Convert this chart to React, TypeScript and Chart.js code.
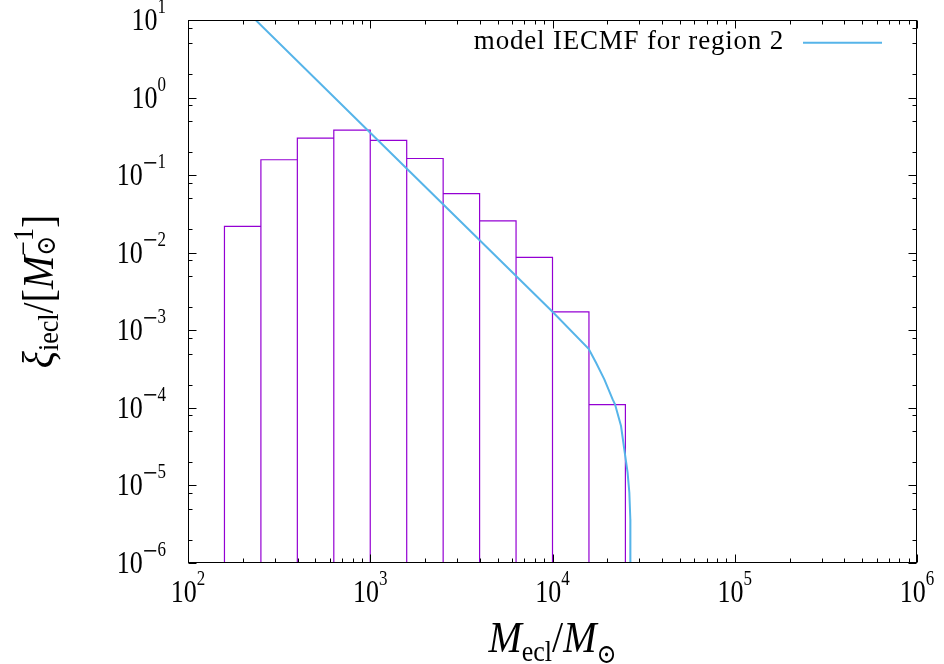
import { useEffect, useRef } from "react";
import { Chart, registerables } from "chart.js";

Chart.register(...registerables);

// Histogram of embedded-cluster masses: bin edges (Msun) and heights (1/Msun)
const binEdges = [158.5, 251.2, 398.1, 631.0, 1000, 1585, 2512, 3981, 6310, 10000, 15850, 25120];
const binHeights = [0.0219, 0.158, 0.3, 0.38, 0.28, 0.164, 0.0577, 0.0257, 0.00873, 0.00173, 0.00011];

// Model IECMF curve samples
const modelMass = [100, 1000, 10000, 15790, 17340, 19250, 21380, 22030, 23770, 24770, 25820, 26400, 26730, 26750];
const modelXi = [72, 0.352, 0.00173, 5.78e-4, 3.82e-4, 2.33e-4, 1.285e-4, 1.11e-4, 5.83e-5, 2.92e-5, 1.47e-5, 8.1e-6, 3.67e-6, 1e-9];

// Axis ticks
const xMajorExponents = [2, 3, 4, 5, 6];
const yMajorExponents = [-6, -5, -4, -3, -2, -1, 0, 1];
const xMinorMultipliers = [2, 3, 4, 5, 6, 7, 8, 9];
const yMinorMultipliers = [2, 5, 8];

const legendLabel = "model IECMF for region 2";

const X_MIN = 1e2;
const X_MAX = 1e6;
const Y_MIN = 1e-6;
const Y_MAX = 1e1;

const BAR_COLOR = "#9400d3";
const MODEL_COLOR = "#56b4e9";
const SERIF = '"Liberation Serif", "DejaVu Serif", "DejaVu Sans", serif';

type Piece = { text: string; size: number; italic?: boolean; dy?: number; stack?: boolean };

function fontOf(p: Piece) {
  return `${p.italic ? "italic " : ""}${p.size}px ${SERIF}`;
}

function layoutPieces(ctx: CanvasRenderingContext2D, pieces: Piece[]) {
  let x = 0;
  let prevStart = 0;
  let prevW = 0;
  const pos: number[] = [];
  for (const p of pieces) {
    ctx.font = fontOf(p);
    const w = ctx.measureText(p.text).width;
    if (p.stack) {
      pos.push(prevStart);
      const adv = Math.max(prevW, w);
      x = prevStart + adv;
      prevW = adv;
    } else {
      pos.push(x);
      prevStart = x;
      prevW = w;
      x += w;
    }
  }
  return { pos, width: x };
}

function drawPieces(
  ctx: CanvasRenderingContext2D,
  pieces: Piece[],
  x0: number,
  baseline: number,
  align: "left" | "center" | "right",
  stretch: number
) {
  const { pos, width } = layoutPieces(ctx, pieces);
  const start = align === "left" ? x0 : align === "center" ? x0 - width / 2 : x0 - width;
  ctx.save();
  ctx.translate(start, baseline);
  ctx.scale(1, stretch);
  ctx.textAlign = "left";
  ctx.textBaseline = "alphabetic";
  ctx.fillStyle = "#000";
  pieces.forEach((p, i) => {
    ctx.font = fontOf(p);
    ctx.fillText(p.text, pos[i], p.dy ?? 0);
  });
  ctx.restore();
}

function powerLabel(e: number): Piece[] {
  const pieces: Piece[] = [{ text: "10", size: 26 }];
  if (e < 0) pieces.push({ text: "\u2212", size: 26, dy: -10.5 });
  pieces.push({ text: String(Math.abs(e)), size: 17, dy: -14.4 });
  return pieces;
}

const xTitle: Piece[] = [
  { text: "M", size: 40, italic: true },
  { text: "ecl", size: 26, dy: 8.8 },
  { text: "/", size: 40 },
  { text: "M", size: 40, italic: true },
  { text: "\u2299", size: 24, dy: 10 },
];

const yTitle: Piece[] = [
  { text: "\u03be", size: 40, italic: true },
  { text: "iecl", size: 26, dy: 4 },
  { text: "/", size: 40 },
  { text: "[", size: 40 },
  { text: "M", size: 40, italic: true },
  { text: "\u22121", size: 26, dy: -18 },
  { text: "\u2299", size: 24, dy: 2, stack: true },
  { text: "]", size: 40 },
];

const framePlugin = {
  id: "gnuplotFrame",
  afterDraw(chart: any) {
    const ctx: CanvasRenderingContext2D = chart.ctx;
    const xs = chart.scales.x;
    const ys = chart.scales.y;
    const { left, right, top, bottom } = chart.chartArea;
    const L = left + 0.5;
    const R = right - 0.5;
    const T = top + 0.5;
    const B = bottom - 0.5;

    ctx.save();
    ctx.strokeStyle = "#000";
    ctx.lineWidth = 1;

    // ticks pointing inward on all four sides
    const vTick = (v: number, len: number) => {
      const px = Math.round(xs.getPixelForValue(v)) + 0.5;
      ctx.beginPath();
      ctx.moveTo(px, B);
      ctx.lineTo(px, B - len);
      ctx.moveTo(px, T);
      ctx.lineTo(px, T + len);
      ctx.stroke();
    };
    const hTick = (v: number, len: number) => {
      const py = Math.round(ys.getPixelForValue(v)) + 0.5;
      ctx.beginPath();
      ctx.moveTo(L, py);
      ctx.lineTo(L + len, py);
      ctx.moveTo(R, py);
      ctx.lineTo(R - len, py);
      ctx.stroke();
    };
    xMajorExponents.forEach((e) => vTick(Math.pow(10, e), 8));
    xMajorExponents.slice(0, -1).forEach((e) =>
      xMinorMultipliers.forEach((m) => vTick(m * Math.pow(10, e), 4))
    );
    yMajorExponents.forEach((e) => hTick(Math.pow(10, e), 8));
    yMajorExponents.slice(0, -1).forEach((e) =>
      yMinorMultipliers.forEach((m) => hTick(m * Math.pow(10, e), 4))
    );

    ctx.strokeRect(L, T, R - L, B - T);
    ctx.restore();

    // tick labels
    xMajorExponents.forEach((e) => {
      const px = xs.getPixelForValue(Math.pow(10, e));
      drawPieces(ctx, powerLabel(e), px, 602, "center", 1.18);
    });
    yMajorExponents.forEach((e) => {
      const py = ys.getPixelForValue(Math.pow(10, e));
      drawPieces(ctx, powerLabel(e), 166, py + 10, "right", 1.18);
    });

    // axis titles
    drawPieces(ctx, xTitle, (left + right) / 2, 651.5, "center", 1.13);
    ctx.save();
    ctx.translate(53, (top + bottom) / 2);
    ctx.rotate(-Math.PI / 2);
    drawPieces(ctx, yTitle, 0, 0, "center", 1.13);
    ctx.restore();

    // key
    ctx.save();
    ctx.font = `27px ${SERIF}`;
    (ctx as any).letterSpacing = "0.8px";
    ctx.fillStyle = "#000";
    ctx.textAlign = "right";
    ctx.textBaseline = "alphabetic";
    ctx.fillText(legendLabel, 784, 49.3);
    ctx.restore();
    ctx.save();
    ctx.strokeStyle = MODEL_COLOR;
    ctx.lineWidth = 2;
    ctx.beginPath();
    ctx.moveTo(803, 42.7);
    ctx.lineTo(882, 42.7);
    ctx.stroke();
    ctx.restore();
  },
};

function histogramOutline() {
  const pts: { x: number; y: number | null }[] = [];
  binHeights.forEach((h, i) => {
    const a = binEdges[i];
    const b = binEdges[i + 1];
    pts.push({ x: a, y: Y_MIN }, { x: a, y: h }, { x: b, y: h }, { x: b, y: Y_MIN }, { x: b, y: null });
  });
  return pts;
}

export default function App() {
  const ref = useRef<HTMLCanvasElement>(null);

  useEffect(() => {
    const canvas = ref.current;
    if (!canvas) return;
    const chart = new Chart(canvas, {
      type: "line",
      data: {
        datasets: [
          {
            label: legendLabel,
            data: modelMass.map((m, i) => ({ x: m, y: modelXi[i] })),
            borderColor: MODEL_COLOR,
            borderWidth: 2,
            pointRadius: 0,
            tension: 0,
            fill: false,
          },
          {
            label: "histogram",
            data: histogramOutline() as any,
            borderColor: BAR_COLOR,
            borderWidth: 1.2,
            pointRadius: 0,
            tension: 0,
            spanGaps: false,
            fill: false,
          },
        ],
      },
      options: {
        responsive: false,
        devicePixelRatio: 1,
        animation: false,
        layout: { padding: { left: 188, right: 27, top: 20, bottom: 101 } },
        plugins: {
          legend: { display: false },
          tooltip: { enabled: false },
        },
        events: [],
        scales: {
          x: { type: "logarithmic", min: X_MIN, max: X_MAX, display: false },
          y: { type: "logarithmic", min: Y_MIN, max: Y_MAX, display: false },
        },
      },
      plugins: [framePlugin],
    });
    return () => chart.destroy();
  }, []);

  return (
    <div style={{ position: "absolute", left: 0, top: 0, width: 944, height: 664, background: "#fff" }}>
      <canvas ref={ref} width={944} height={664} style={{ display: "block", width: 944, height: 664 }} />
    </div>
  );
}
